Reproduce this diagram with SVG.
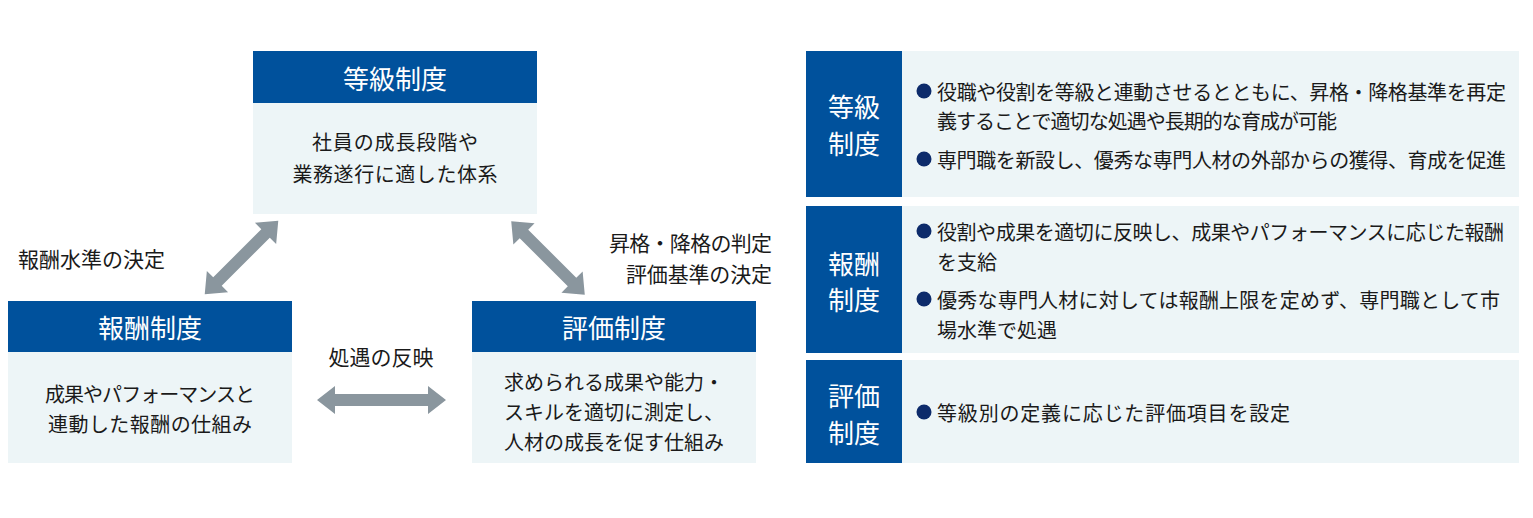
<svg xmlns="http://www.w3.org/2000/svg" width="1533" height="518" viewBox="0 0 1533 518">
<style>
text{font-family:"Noto Sans CJK JP","Noto Sans CJK SC",sans-serif;dominant-baseline:central;}
.hd{fill:#00519c;}
.bd{fill:#edf5f7;}
.ht{fill:#ffffff;font-size:26px;text-anchor:middle;}
.bt{fill:#1a1a1a;font-size:20px;text-anchor:middle;}
.lb{fill:#1a1a1a;font-size:21px;}
.pt{fill:#1a1a1a;font-size:20px;}
.bl{fill:#0d2b6b;}
.arr{fill:#8a969e;}
</style>
<defs>
<path id="dbl" d="M-52,0 L-34,-15 L-34,-6 L34,-6 L34,-15 L52,0 L34,15 L34,6 L-34,6 L-34,15 Z"/>
</defs>
<g id="node-tokyu">
<rect class="hd" x="253" y="51" width="284" height="52"/>
<rect class="bd" x="253" y="103" width="284" height="111"/>
<text class="ht" x="395" y="77">等級制度</text>
<text class="bt" x="395" y="141" textLength="166" lengthAdjust="spacing">社員の成長段階や</text>
<text class="bt" x="395" y="173" textLength="205" lengthAdjust="spacing">業務遂行に適した体系</text>
</g>
<g id="node-hoshu">
<rect class="hd" x="8" y="301" width="284" height="51"/>
<rect class="bd" x="8" y="352" width="284" height="111"/>
<text class="ht" x="150" y="326">報酬制度</text>
<text class="bt" x="150" y="393" textLength="210" lengthAdjust="spacing">成果やパフォーマンスと</text>
<text class="bt" x="150" y="423" textLength="204" lengthAdjust="spacing">連動した報酬の仕組み</text>
</g>
<g id="node-hyoka">
<rect class="hd" x="472" y="301" width="284" height="51"/>
<rect class="bd" x="472" y="352" width="284" height="111"/>
<text class="ht" x="614" y="326">評価制度</text>
<text class="bt" x="614" y="381">求められる成果や能力・</text>
<text class="bt" x="614" y="411">スキルを適切に測定し、</text>
<text class="bt" x="614" y="441">人材の成長を促す仕組み</text>
</g>
<g id="connectors">
<use href="#dbl" class="arr" transform="translate(241.5,257.5) rotate(-45)"/>
<use href="#dbl" class="arr" transform="translate(548,258) rotate(45)"/>
<path class="arr" d="M317,400 L335,386 L335,394 L428,394 L428,386 L446,400 L428,414 L428,406 L335,406 L335,414 Z"/>
<text class="lb" x="18" y="258" textLength="147" lengthAdjust="spacing">報酬水準の決定</text>
<text class="lb" x="772" y="242" text-anchor="end" textLength="163" lengthAdjust="spacing">昇格・降格の判定</text>
<text class="lb" x="772" y="273" text-anchor="end" textLength="146" lengthAdjust="spacing">評価基準の決定</text>
<text class="lb" x="381" y="356" text-anchor="middle" textLength="105" lengthAdjust="spacing">処遇の反映</text>
</g>
<g id="panel-tokyu">
<rect class="bd" x="806" y="51" width="713" height="146"/>
<rect class="hd" x="806" y="51" width="96" height="146"/>
<text class="ht" x="854" y="105">等級</text>
<text class="ht" x="854" y="142">制度</text>
<circle class="bl" cx="924" cy="91" r="7.5"/>
<text class="pt" x="937" y="91" textLength="569" lengthAdjust="spacing">役職や役割を等級と連動させるとともに、昇格・降格基準を再定</text>
<text class="pt" x="937" y="120" textLength="400" lengthAdjust="spacing">義することで適切な処遇や長期的な育成が可能</text>
<circle class="bl" cx="924" cy="159" r="7.5"/>
<text class="pt" x="937" y="159" textLength="569" lengthAdjust="spacing">専門職を新設し、優秀な専門人材の外部からの獲得、育成を促進</text>
</g>
<g id="panel-hoshu">
<rect class="bd" x="806" y="206" width="713" height="147"/>
<rect class="hd" x="806" y="206" width="96" height="147"/>
<text class="ht" x="854" y="262">報酬</text>
<text class="ht" x="854" y="298">制度</text>
<circle class="bl" cx="924" cy="231" r="7.5"/>
<text class="pt" x="937" y="231" textLength="567" lengthAdjust="spacing">役割や成果を適切に反映し、成果やパフォーマンスに応じた報酬</text>
<text class="pt" x="937" y="261">を支給</text>
<circle class="bl" cx="924" cy="299" r="7.5"/>
<text class="pt" x="937" y="299" textLength="563" lengthAdjust="spacing">優秀な専門人材に対しては報酬上限を定めず、専門職として市</text>
<text class="pt" x="937" y="329">場水準で処遇</text>
</g>
<g id="panel-hyoka">
<rect class="bd" x="806" y="360" width="713" height="103"/>
<rect class="hd" x="806" y="360" width="96" height="103"/>
<text class="ht" x="854" y="394">評価</text>
<text class="ht" x="854" y="431">制度</text>
<circle class="bl" cx="924" cy="412" r="7.5"/>
<text class="pt" x="937" y="412" textLength="353" lengthAdjust="spacing">等級別の定義に応じた評価項目を設定</text>
</g>
</svg>
